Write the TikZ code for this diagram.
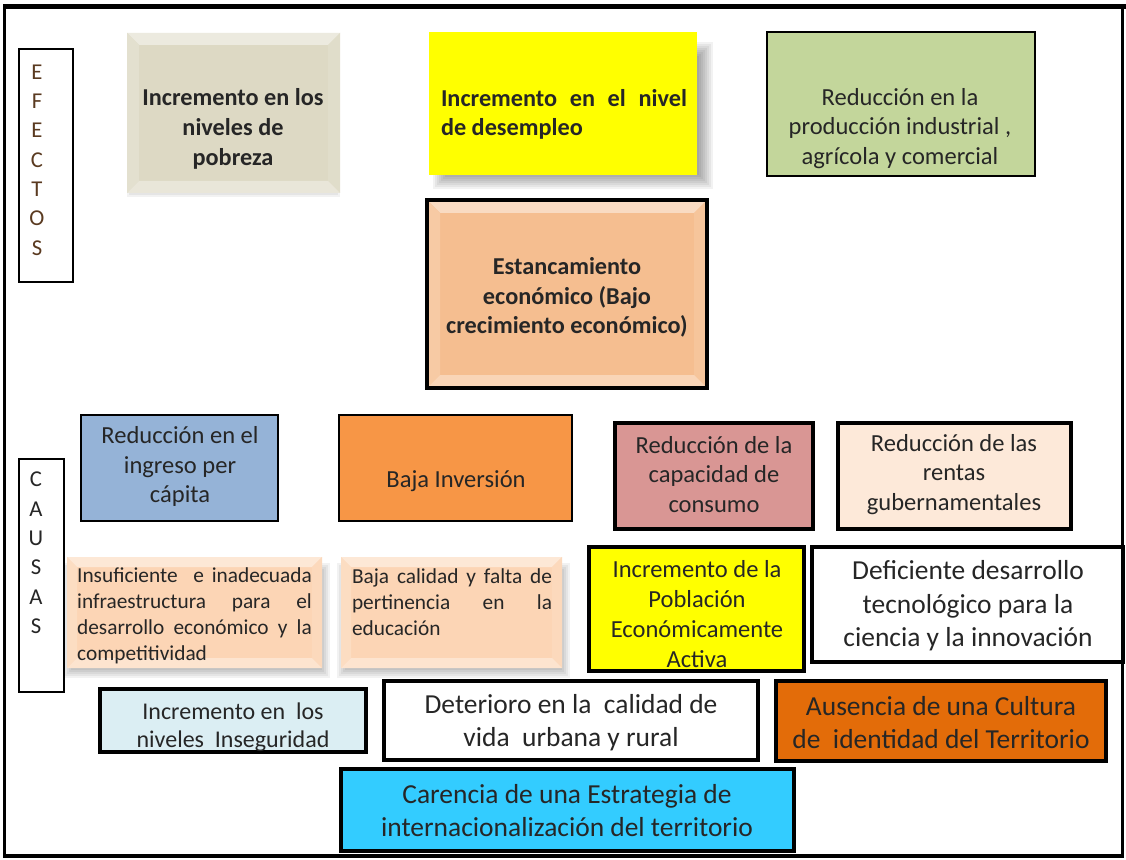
\documentclass[tikz,border=0pt]{standalone}
\usepackage{fontspec}
\setmainfont{Carlito}
\definecolor{txt}{HTML}{262626}
\definecolor{cPob}{HTML}{DDD9C4}
\definecolor{cYel}{HTML}{FFFF00}
\definecolor{cGreen}{HTML}{C3D69B}
\definecolor{cEst}{HTML}{F5BE90}
\definecolor{cBlue}{HTML}{95B3D7}
\definecolor{cOrange}{HTML}{F79646}
\definecolor{cPink}{HTML}{D99694}
\definecolor{cRent}{HTML}{FDE9D9}
\definecolor{cPeach}{HTML}{FCD5B5}
\definecolor{cLight}{HTML}{DBEEF3}
\definecolor{cAus}{HTML}{E36C09}
\definecolor{cCyan}{HTML}{33CCFF}
\definecolor{cLetE}{HTML}{5A3A20}
\newcommand\softshadow[6]{% x1 y1 x2 y2 xoffset yoffset
  \foreach \k in {0,2,...,14}{
    \fill[black,opacity=0.05] ({#1+#5+\k},{#2+#6+\k}) rectangle ({#3+#5-\k+12},{#4+#6-\k+4});}}
\newcommand\bevelbox[6]{% x1 y1 x2 y2 color depth
  \fill[#5] (#1,#2) rectangle (#3,#4);
  \fill[#5!55!white] (#1,#2) -- (#3,#2) -- ({#3-#6},{#2+#6}) -- ({#1+#6},{#2+#6}) -- cycle;
  \fill[#5!82!white] (#1,#2) -- ({#1+#6},{#2+#6}) -- ({#1+#6},{#4-#6}) -- (#1,#4) -- cycle;
  \fill[#5!90!white] (#3,#2) -- ({#3-#6},{#2+#6}) -- ({#3-#6},{#4-#6}) -- (#3,#4) -- cycle;
  \fill[#5!65!white] (#1,#4) -- ({#1+#6},{#4-#6}) -- ({#3-#6},{#4-#6}) -- (#3,#4) -- cycle;}
\begin{document}
\begin{tikzpicture}[x=0.75pt,y=-0.75pt,
  tx/.style={inner sep=0pt, text=txt, align=center},
  fa/.style={font=\fontsize{18.4}{22.3}\selectfont},
  fb/.style={font=\bfseries\fontsize{18.2}{22.3}\selectfont},
  fc/.style={font=\fontsize{16}{19.5}\selectfont},
  fd/.style={font=\fontsize{20.6}{25}\selectfont},
  fe/.style={font=\fontsize{18}{21}\selectfont},
  fl/.style={font=\fontsize{17}{22}\selectfont},
  thin box/.style={draw=black, line width=1.4pt},
  thick box/.style={draw=black, line width=2.4pt}]
\useasboundingbox (0,0) rectangle (1126,859);
\fill[white] (0,0) rectangle (1126,859);
% outer frame
\draw[line width=2.3pt] (4.5,6.5) rectangle (1122.5,856);
\draw[line width=3.8pt] (3,6.5) -- (1126,6.5);

% ---- EFECTOS label
\draw[line width=1.8pt] (19,49) rectangle (73,282);
\node[tx, fl, text=cLetE] (efectos) at (37,160) {E\\F\\E\\C\\T\\O\\S};

% ---- effects
\foreach \k in {0,2,4}{\fill[black,opacity=0.05] ({127+\k},{33+4}) rectangle ({340-\k},{193+4-\k});}
\bevelbox{127}{33}{340}{193}{cPob}{12}
\node[tx, fb] (pobreza) at (233,129) {Incremento en los\\niveles de\\pobreza};

\softshadow{429}{32}{697}{175}{4}{10}
\fill[cYel] (429,32) rectangle (697,175);
\node[tx, fb, text width=184.5pt, align=justify] (desempleo) at (564,114.5) {Incremento en el nivel\linebreak de desempleo};

\fill[cGreen, thin box] (767,32) rectangle (1035,176);
\node[tx, fa] (produccion) at (900,128.5) {Reducción en la\\producción industrial ,\\agrícola y comercial};

\bevelbox{427}{200}{707}{388}{cEst}{13}
\draw[thick box] (427,200) rectangle (707,388);
\node[tx, fb] (estancamiento) at (567,297.5) {Estancamiento\\económico (Bajo\\crecimiento económico)};

% ---- CAUSAS label
\draw[line width=1.4pt] (19,459) rectangle (64,692);
\node[tx, fl] (causas) at (36,553) {C\\A\\U\\S\\A\\S};

% ---- causes row 1
\fill[cBlue, thin box] (81,415) rectangle (278,521);
\node[tx, fa] (ingreso) at (180,466.5) {Reducción en el\\ingreso per\\cápita};

\fill[cOrange, thin box] (339,415) rectangle (572,521);
\node[tx, fa] (inversion) at (456,481) {Baja Inversión};

\fill[cPink, thick box] (615,423) rectangle (813,529);
\node[tx, fa] (consumo) at (714,474.5) {Reducción de la\\capacidad de\\consumo};

\fill[cRent, thick box] (838,423) rectangle (1071,529);
\node[tx, fa] (rentas) at (954,474.5) {Reducción de las\\rentas\\gubernamentales};

% ---- causes row 2
\softshadow{67}{557}{322}{668}{-4}{6}
\softshadow{341}{557}{562}{668}{-4}{6}
\bevelbox{67}{557}{322}{668}{cPeach}{10}
\node[tx, fc, text width=176pt, align=justify] (infra) at (194.5,616) {Insuficiente~ e inadecuada\linebreak infraestructura para el\linebreak desarrollo económico y la\linebreak competitividad};

\bevelbox{341}{557}{562}{668}{cPeach}{10}
\node[tx, fc, text width=150pt, align=justify] (educacion) at (452,602.5) {Baja calidad y falta de\linebreak pertinencia en la\linebreak educación};

\fill[cYel, thick box] (589,547) rectangle (804,671);
\node[tx, fa] (pea) at (697,614) {Incremento de la\\Población\\Económicamente\\Activa};

\fill[white, thick box] (812,547) rectangle (1123,662);
\node[tx, fd] (tecnologico) at (968,606) {Deficiente desarrollo\\tecnológico para la\\ciencia y la innovación};

% ---- causes row 3
\fill[cLight, thick box] (100,689) rectangle (366,752);
\node[tx, fe] (inseguridad) at (233,727) {Incremento en~ los\\niveles~ Inseguridad};

\fill[white, thick box] (384,681) rectangle (758,760);
\node[tx, fd] (deterioro) at (571,722.5) {Deterioro en la~ calidad de\\vida~ urbana y rural};

\fill[cAus, thick box] (776,681) rectangle (1106,761);
\node[tx, fd] (ausencia) at (941,722.5) {Ausencia de una Cultura\\de~ identidad del Territorio};

% ---- causes row 4
\fill[cCyan, thick box] (341,769) rectangle (794,851);
\node[tx, fd] (carencia) at (567,810.5) {Carencia de una Estrategia de\\internacionalización del territorio};
\end{tikzpicture}
\end{document}
